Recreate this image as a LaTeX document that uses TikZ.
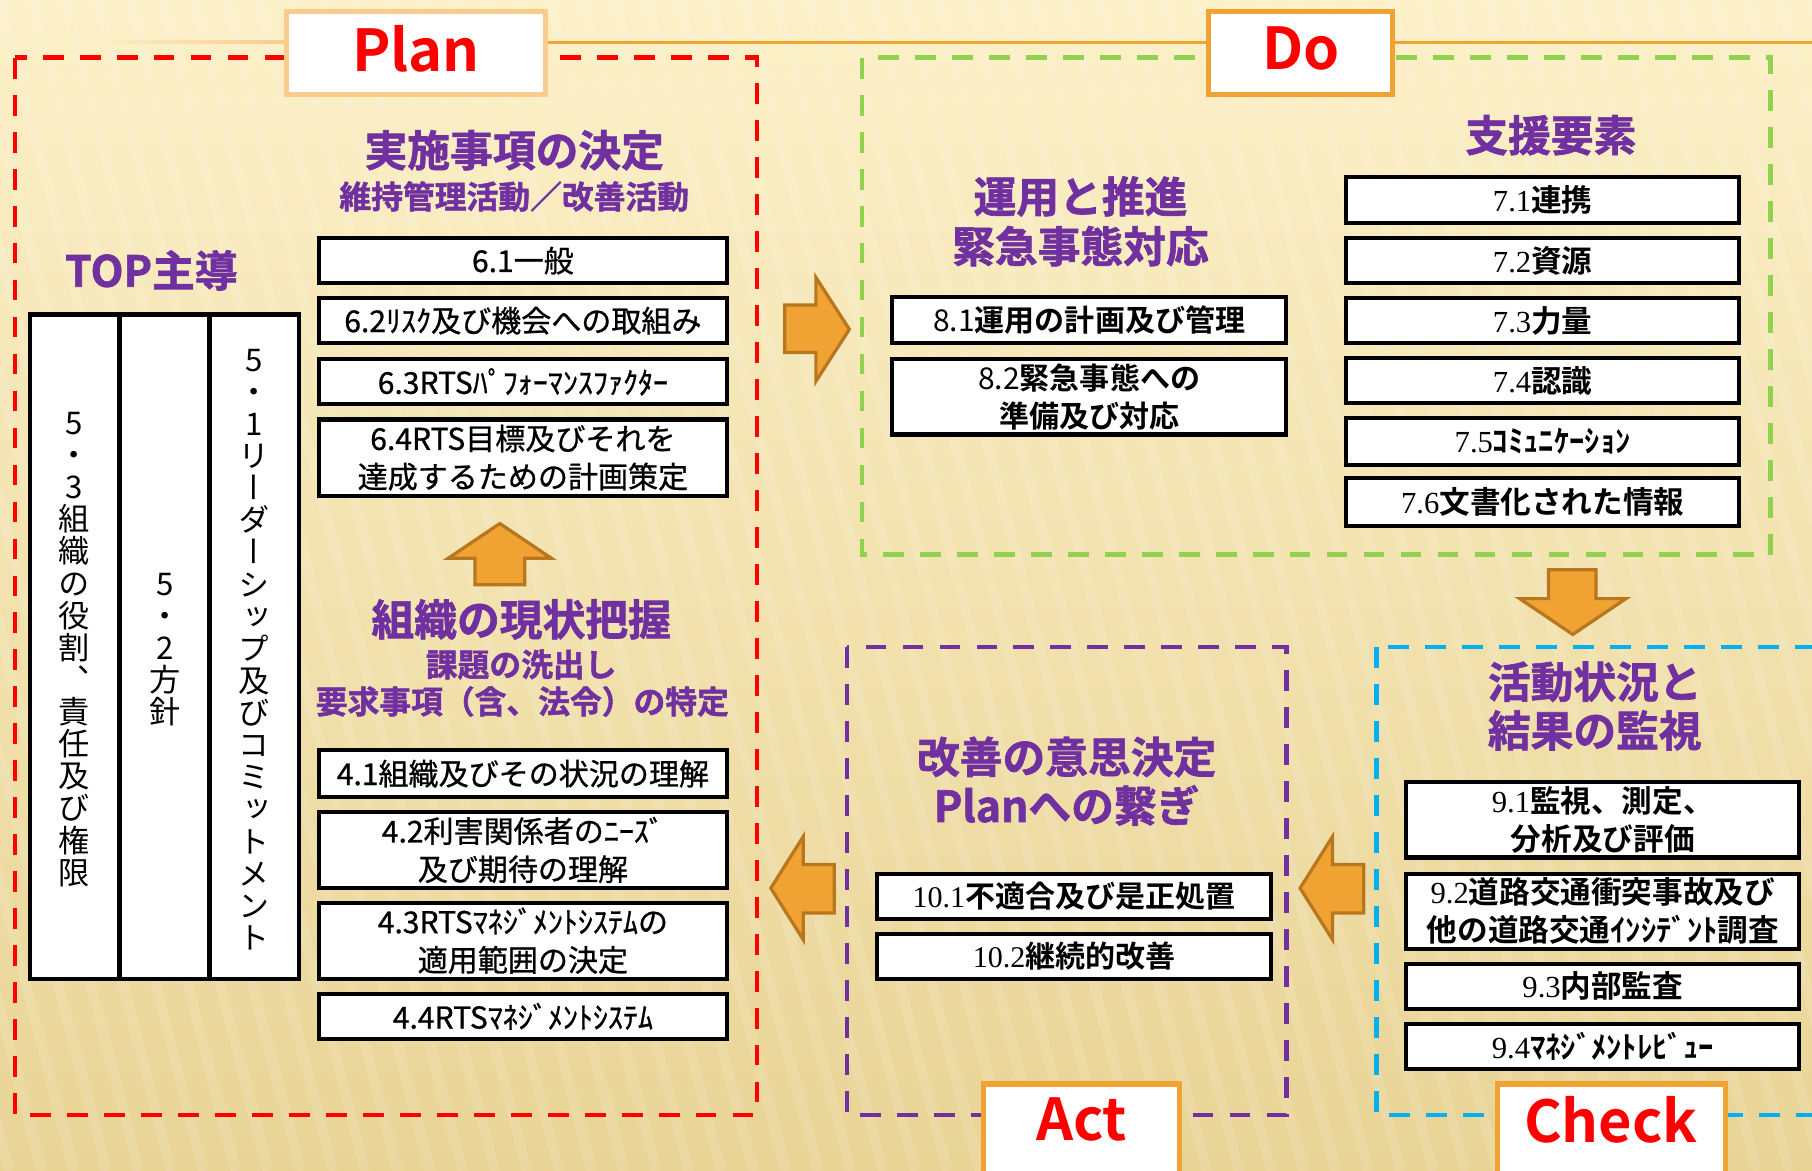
\documentclass[tikz,border=0pt]{standalone}
\usepackage{fontspec}
\usepackage{graphicx}
\setmainfont{Noto Sans CJK JP}
\newfontfamily\jpR{Noto Sans CJK JP}
\newfontfamily\jpM{Noto Sans CJK JP}[FakeBold=0.8]
\newfontfamily\jpB{Noto Sans CJK JP Bold}
\newfontfamily\jpH{Noto Sans CJK JP Bold}[FakeBold=1.5]
\newfontfamily\jpV{Noto Sans CJK JP}[RawFeature=+vert]
\newfontfamily\sdig{Liberation Serif}
\newcommand\sd[1]{{\sdig #1}}
\newcommand\tightlines{\lineskiplimit=-100pt\relax}

\definecolor{bgtop}{HTML}{FCF0C8}
\definecolor{bgbot}{HTML}{E9D496}
\definecolor{ttlorange}{HTML}{F0A232}
\definecolor{ttllight}{HTML}{F8CC8C}
\definecolor{arrfill}{HTML}{F0A232}
\definecolor{arrdraw}{HTML}{B8771F}
\definecolor{hdr}{HTML}{7030A0}
\definecolor{pdred}{HTML}{FF0000}
\definecolor{dogreen}{HTML}{92D050}
\definecolor{actpurple}{HTML}{7030A0}
\definecolor{chkblue}{HTML}{00B0F0}

\tikzset{
  itembox/.style={draw=black, fill=white, line width=3.5pt, inner sep=0pt, align=center, minimum height=39pt},
  planitem/.style={itembox, minimum width=353pt, font=\jpM\fontsize{26}{33}\selectfont},
  opitem/.style={itembox, minimum width=341pt, font=\jpB\fontsize{26}{33}\selectfont},
  supitem/.style={itembox, minimum width=340pt, font=\jpB\fontsize{26.5}{33}\selectfont},
  colbox/.style={draw=black, fill=white, line width=3.8pt, inner sep=0pt, minimum width=77pt, minimum height=575pt},
  vtext/.style={font=\jpV\fontsize{27}{27.8}\selectfont\tightlines, align=center, inner sep=0pt},
  hdrbig/.style={text=hdr, font=\jpH\fontsize{37}{44}\selectfont, inner sep=0pt, align=center},
  hdrsmall/.style={text=hdr, font=\jpH\fontsize{27.5}{33}\selectfont, inner sep=0pt, align=center},
  ttlbox/.style={fill=white, line width=4.5pt, inner sep=0pt, minimum height=72pt},
  ttltext/.style={text=pdred, font=\jpB\fontsize{50}{60}\selectfont, inner sep=0pt},
  phase/.style={line width=4pt, dash pattern=on 18pt off 14pt},
  blockarrow/.style={fill=arrfill, draw=arrdraw, line width=2.8pt, line join=miter},
}

\begin{document}
\begin{tikzpicture}[x=1pt,y=-1pt]
\useasboundingbox (0,0) rectangle (1568,1013);
\clip (0,0) rectangle (1568,1013);
% background
\shade[top color=bgtop, bottom color=bgbot] (0,0) rectangle (1568,1013);
\foreach \s in {-420,-392,...,1568} {
  \draw[white, opacity=0.11, line width=9pt] (\s,0) -- (\s+260,1013);
}
% top line
\shade[left color=bgtop, right color=ttllight] (80,35.2) rectangle (250,37.8);
\draw[ttlorange, line width=2.6pt] (470,36.5) -- (1568,36.5);

% phase frames
\draw[phase, pdred] (13,50) rectangle (655,965);
\draw[phase, dogreen] (746,50) rectangle (1532,480);
\draw[phase, actpurple] (733,560) rectangle (1113,965);
\draw[phase, chkblue] (1191,560) rectangle (1600,965);

% title boxes
\node[ttlbox, draw=ttllight, minimum width=224pt] (planbox) at (360,46) {};
\node[ttltext] (plantxt) at (360,42) {Plan};
\node[ttlbox, draw=ttlorange, minimum width=159pt] (dobox) at (1125.5,46) {};
\node[ttltext] (dotxt) at (1126,42) {Do};
\node[ttlbox, draw=ttlorange, minimum width=170pt, minimum height=90pt] (actbox) at (936,983) {};
\node[ttltext] (acttxt) at (936,969) {Act};
\node[ttlbox, draw=ttlorange, minimum width=197pt, minimum height=90pt] (chkbox) at (1394.5,983) {};
\node[ttltext] (chktxt) at (1394,969) {Check};

% block arrows
\draw[blockarrow] (679,264) -- (706,264) -- (706,240) -- (735,285) -- (706,330) -- (706,305) -- (679,305) -- cycle;
\draw[blockarrow] (411,506) -- (411,483) -- (388,483) -- (432.5,453) -- (477,483) -- (454,483) -- (454,506) -- cycle;
\draw[blockarrow] (1340,493) -- (1381,493) -- (1381,518) -- (1407,518) -- (1361,549) -- (1315,518) -- (1340,518) -- cycle;
\draw[blockarrow] (1180,748) -- (1153,748) -- (1153,724) -- (1125,768.5) -- (1153,813) -- (1153,790) -- (1180,790) -- cycle;
\draw[blockarrow] (722,748) -- (695,748) -- (695,724) -- (667,768.5) -- (695,813) -- (695,790) -- (722,790) -- cycle;

% Plan: TOP
\node[hdrbig] (top) at (131,234) {TOP主導};
\node[colbox] (c1) at (64.5,559.5) {};
\node[colbox] (c2) at (142.5,559.5) {};
\node[colbox] (c3) at (220,559.5) {};
\node[vtext] (v1) at (64.5,562) {5\\・\\3\\組\\織\\の\\役\\割\\、\\責\\任\\及\\び\\権\\限};
\node[vtext] (v2) at (142.5,562) {5\\・\\2\\方\\針};
\node[vtext] (v3) at (220,562) {5\\・\\1\\リ\\ー\\ダ\\ー\\シ\\ッ\\プ\\及\\び\\コ\\ミ\\ッ\\ト\\メ\\ン\\ト};

% Plan: right column
\node[hdrbig] (h1) at (445,130) {実施事項の決定};
\node[hdrsmall] (h1s) at (445,170) {維持管理活動／改善活動};
\node[planitem] (p61) at (452.5,225.5) {6.1一般};
\node[planitem] (p62) at (452.5,277.5) {6.2ﾘｽｸ及び機会への取組み};
\node[planitem] (p63) at (452.5,330.5) {6.3RTSﾊﾟﾌｫｰﾏﾝｽﾌｧｸﾀｰ};
\node[planitem, minimum height=66pt] (p64) at (452.5,396) {6.4RTS目標及びそれを\\達成するための計画策定};
\node[hdrbig] (h2) at (451,536) {組織の現状把握};
\node[hdrsmall] (h2a) at (451,575) {課題の洗出し};
\node[hdrsmall] (h2b) at (452,607) {要求事項（含、法令）の特定};
\node[planitem, minimum height=41pt] (p41) at (452.5,669.5) {4.1組織及びその状況の理解};
\node[planitem, minimum height=65pt] (p42) at (452.5,735.5) {4.2利害関係者のﾆｰｽﾞ\\及び期待の理解};
\node[planitem, minimum height=66pt] (p43) at (452.5,814) {4.3RTSﾏﾈｼﾞﾒﾝﾄｼｽﾃﾑの\\適用範囲の決定};
\node[planitem] (p44) at (452.5,879.5) {4.4RTSﾏﾈｼﾞﾒﾝﾄｼｽﾃﾑ};

% Do
\node[hdrbig] (h3) at (935,170) {運用と推進};
\node[hdrbig] (h3b) at (935,213) {緊急事態対応};
\node[opitem, minimum height=40pt] (d81) at (942.5,277) {{\jpR 8.1}運用の計画及び管理};
\node[opitem, minimum height=65pt] (d82) at (942.5,343.5) {{\jpR 8.2}緊急事態への\\準備及び対応};
\node[hdrbig] (h4) at (1342,117) {支援要素};
\node[supitem, minimum height=40pt] (s71) at (1335,173) {\sd{7.1}連携};
\node[supitem] (s72) at (1335,225.5) {\sd{7.2}資源};
\node[supitem] (s73) at (1335,277.5) {\sd{7.3}力量};
\node[supitem] (s74) at (1335,329.5) {\sd{7.4}認識};
\node[supitem, minimum height=40pt] (s75) at (1335,382) {\sd{7.5}ｺﾐｭﾆｹｰｼｮﾝ};
\node[supitem, minimum height=41pt] (s76) at (1335,434.5) {\sd{7.6}文書化された情報};

% Check
\node[hdrbig] (h5) at (1380,590) {活動状況と};
\node[hdrbig] (h5b) at (1380,632) {結果の監視};
\node[supitem, minimum height=65pt] (k91) at (1387,709.5) {\sd{9.1}監視、測定、\\分析及び評価};
\node[supitem, minimum height=65pt] (k92) at (1387,788.5) {\sd{9.2}道路交通衝突事故及び\\他の道路交通ｲﾝｼﾃﾞﾝﾄ調査};
\node[supitem] (k93) at (1387,853.5) {\sd{9.3}内部監査};
\node[supitem] (k94) at (1387,905.5) {\sd{9.4}ﾏﾈｼﾞﾒﾝﾄﾚﾋﾞｭｰ};

% Act
\node[hdrbig] (h6) at (923,655) {改善の意思決定};
\node[hdrbig] (h6b) at (923,697) {Planへの繋ぎ};
\node[opitem] (a101) at (929.5,775.5) {\sd{10.1}不適合及び是正処置};
\node[opitem] (a102) at (929.5,827.5) {\sd{10.2}継続的改善};
\end{tikzpicture}
\end{document}
